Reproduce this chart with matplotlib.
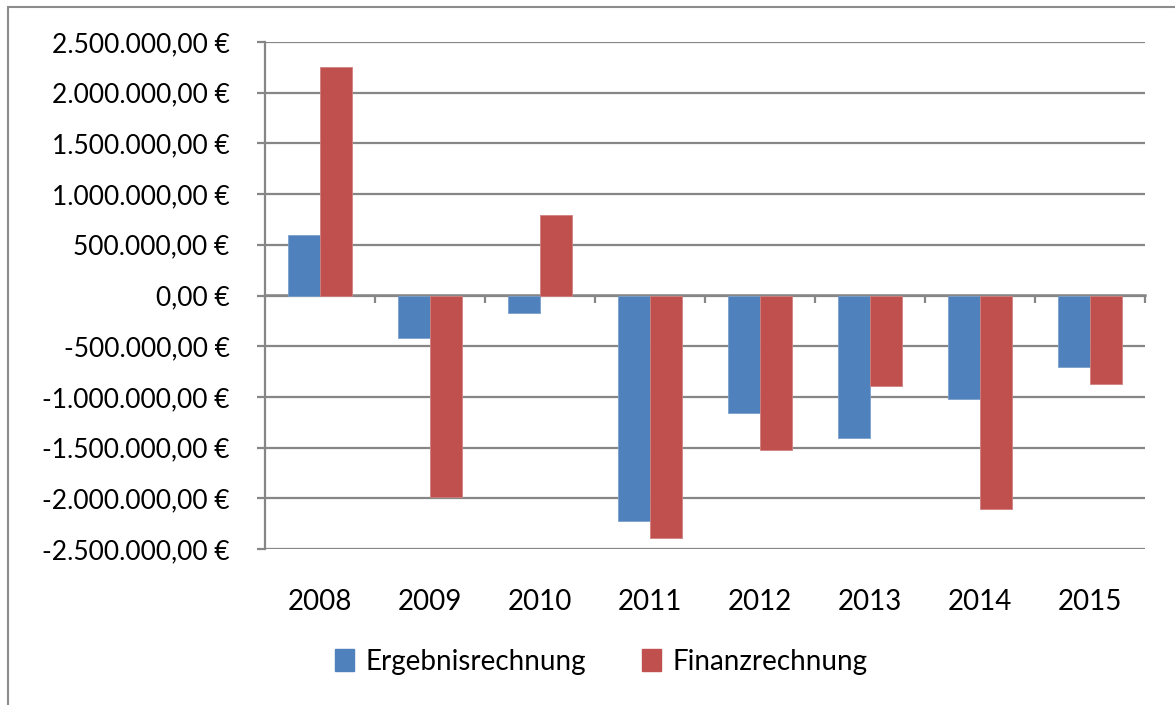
import matplotlib
matplotlib.use("Agg")
import matplotlib.pyplot as plt
from matplotlib.patches import Rectangle, Patch
from matplotlib.ticker import FuncFormatter, NullFormatter
import numpy as np

years = ["2008", "2009", "2010", "2011", "2012", "2013", "2014", "2015"]
ergebnis = [595000, -417000, -171000, -2219000, -1161000, -1403000, -1016000, -707000]
finanz = [2255000, -1985000, 789000, -2390000, -1522000, -897000, -2104000, -871000]
series_names = ["Ergebnisrechnung", "Finanzrechnung"]
colors = ["#4F81BD", "#C0504D"]

plt.rcParams['font.family'] = ['Lato', 'DejaVu Sans']
FS = 19
FSX = 20
GRID = "#868686"

fig = plt.figure(figsize=(11.75, 7.05), dpi=100)
ax = fig.add_axes([265/1175, 1-549/705, (1145-265)/1175, (549-42)/705])

x = np.arange(len(years))
w = 0.29
ax.bar(x - w/2, ergebnis, w, color=colors[0], edgecolor="#7BA0CD", linewidth=0.6, zorder=3)
ax.bar(x + w/2, finanz, w, color=colors[1], edgecolor="#D08080", linewidth=0.6, zorder=3)

ax.set_xlim(-0.5, len(years) - 0.5)
ax.set_ylim(-2500000, 2500000)
ax.set_yticks(np.arange(-2500000, 2500001, 500000))

def de_fmt(v, pos):
    s = f"{abs(v):,.2f}".replace(",", "X").replace(".", ",").replace("X", ".")
    return ("-" if v < 0 else "") + s + " €"

ax.yaxis.set_major_formatter(FuncFormatter(de_fmt))
ax.yaxis.grid(True, color=GRID, linewidth=1.6, zorder=1)
ax.set_axisbelow(True)
for s in ["top", "right", "bottom"]:
    ax.spines[s].set_visible(False)
ax.spines["left"].set_color(GRID)
ax.spines["left"].set_linewidth(1.6)
ax.tick_params(axis="y", direction="out", length=5.5, width=1.6, color=GRID,
               labelsize=FS, pad=20, labelcolor="black")

ax.set_xticks(x)
ax.set_xticklabels(years)
ax.tick_params(axis="x", length=0, labelsize=FSX, pad=29, labelcolor="black")

# zero line with category boundary ticks
sec = ax.secondary_xaxis(0.5)
sec.xaxis.set_ticks_position("bottom")
sec.set_xticks(np.arange(0.5, len(years) - 0.5 + 1, 1.0))
sec.xaxis.set_major_formatter(NullFormatter())
sec.tick_params(axis="x", which="both", direction="out", length=5, width=1.6, color=GRID,
                labelbottom=False, labeltop=False, bottom=True, top=False)
for s in ["top", "bottom"]:
    sec.spines[s].set_color(GRID)
    sec.spines[s].set_linewidth(1.8)

# outer chart border
fig.patches.append(Rectangle((8/1175, -0.5), 2, 1.5 - 7/705, transform=fig.transFigure,
                             fill=False, edgecolor="#8C8C8C", linewidth=1.5, zorder=0))

handles = [Patch(facecolor=c, edgecolor=c) for c in colors]
fig.legend(handles, series_names, loc="center", bbox_to_anchor=(601/1175, 1-662/705),
           ncol=2, frameon=False, fontsize=FSX, handlelength=0.7, handleheight=0.85,
           handletextpad=0.4, columnspacing=2.0)

fig.savefig("out.png", dpi=100)
